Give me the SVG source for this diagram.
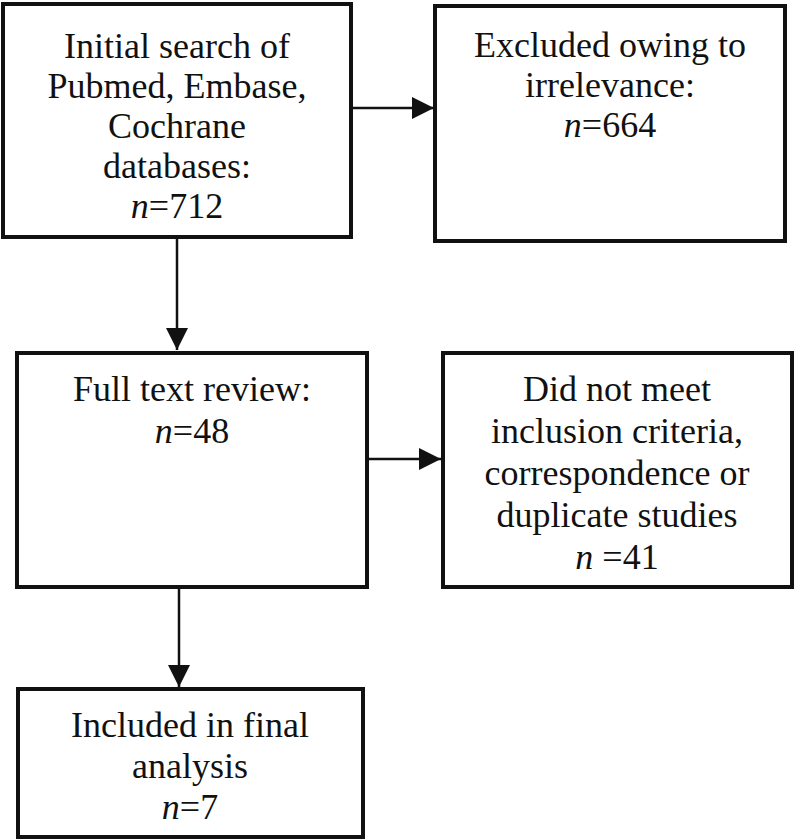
<svg xmlns="http://www.w3.org/2000/svg" width="798" height="840" viewBox="0 0 798 840">
<style>
.box{fill:#fff;stroke:#111;stroke-width:4}
.t{font-family:"Liberation Serif","Times New Roman",serif;font-size:36px;fill:#111;text-anchor:middle}
.i{font-style:italic}
.c{stroke:#111;stroke-width:2.5;fill:none}
</style>
<defs>
<marker id="ah" markerUnits="userSpaceOnUse" viewBox="0 0 22 22" refX="22" refY="11" markerWidth="22" markerHeight="22" orient="auto">
<path d="M0,0 L22,11 L0,22 z" fill="#111"/>
</marker>
</defs>
<rect width="798" height="840" fill="#fff"/>
<g id="connectors">
<line class="c" x1="351" y1="108" x2="434" y2="108" marker-end="url(#ah)"/>
<line class="c" x1="177" y1="237" x2="177" y2="350" marker-end="url(#ah)"/>
<line class="c" x1="367" y1="459" x2="441" y2="459" marker-end="url(#ah)"/>
<line class="c" x1="179" y1="587" x2="179" y2="687" marker-end="url(#ah)"/>
</g>
<g id="node-initial">
<rect class="box" x="3" y="4" width="348" height="233"/>
<text class="t" x="177" y="58">Initial search of</text>
<text class="t" x="177" y="98">Pubmed, Embase,</text>
<text class="t" x="177" y="138">Cochrane</text>
<text class="t" x="177" y="178">databases:</text>
<text class="t" x="177" y="218"><tspan class="i">n</tspan>=712</text>
</g>
<g id="node-excluded">
<rect class="box" x="435" y="6" width="350" height="235"/>
<text class="t" x="610" y="57">Excluded owing to</text>
<text class="t" x="610" y="97">irrelevance:</text>
<text class="t" x="610" y="137"><tspan class="i">n</tspan>=664</text>
</g>
<g id="node-fulltext">
<rect class="box" x="17" y="353" width="350" height="234"/>
<text class="t" x="192" y="401">Full text review:</text>
<text class="t" x="192" y="443"><tspan class="i">n</tspan>=48</text>
</g>
<g id="node-notmeet">
<rect class="box" x="443" y="353" width="349" height="234"/>
<text class="t" x="617" y="401">Did not meet</text>
<text class="t" x="617" y="443">inclusion criteria,</text>
<text class="t" x="617" y="485">correspondence or</text>
<text class="t" x="617" y="527">duplicate studies</text>
<text class="t" x="617" y="569"><tspan class="i">n</tspan> =41</text>
</g>
<g id="node-included">
<rect class="box" x="18" y="689" width="345" height="148"/>
<text class="t" x="190" y="737">Included in final</text>
<text class="t" x="190" y="778">analysis</text>
<text class="t" x="190" y="819"><tspan class="i">n</tspan>=7</text>
</g>
</svg>
